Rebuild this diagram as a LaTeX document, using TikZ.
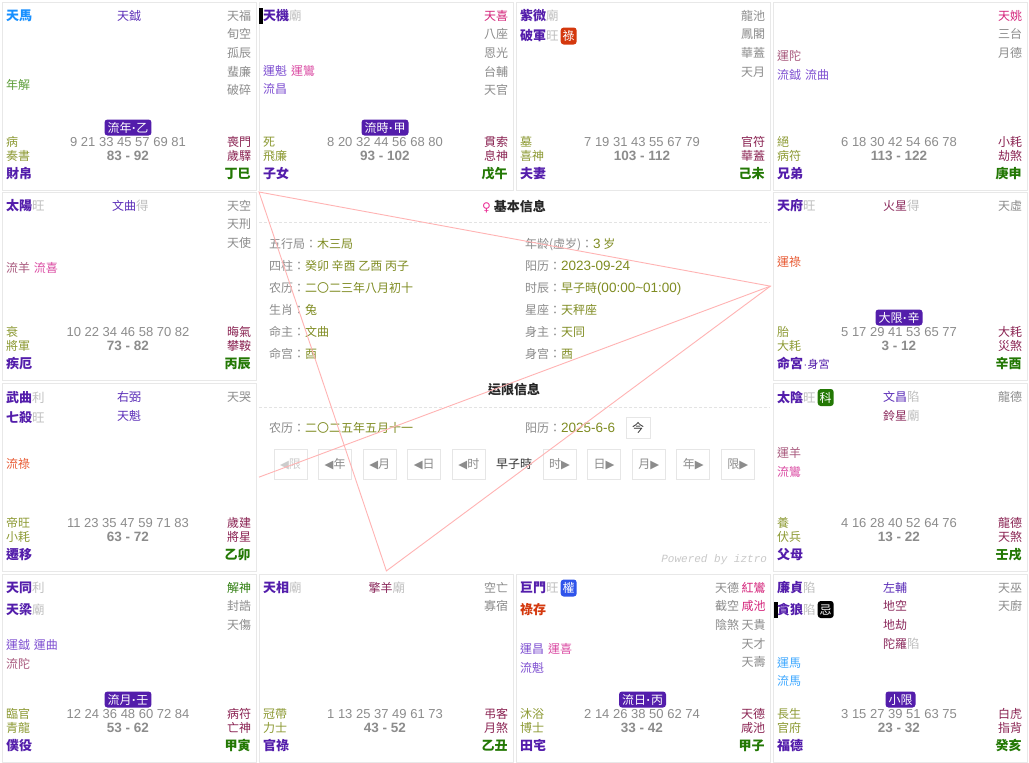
\documentclass[tikz,border=0pt]{standalone}
\usepackage{fontspec}
\setmainfont{Noto Sans CJK TC}
\newfontfamily\lat{Liberation Sans}
\newfontfamily\sym{DejaVu Sans}
\newfontfamily\mono{Liberation Mono}
\usetikzlibrary{calc}
\definecolor{cMaj}{HTML}{531DAB}
\definecolor{cBright}{HTML}{BFBFBF}
\definecolor{cSoft}{HTML}{5B2DB8}
\definecolor{cTough}{HTML}{8B2A5C}
\definecolor{cAdj}{HTML}{8C8C8C}
\definecolor{cFlower}{HTML}{D4237A}
\definecolor{cHelper}{HTML}{2E7D0E}
\definecolor{cNianjie}{HTML}{5E9E3A}
\definecolor{cLucun}{HTML}{D4380D}
\definecolor{cMa}{HTML}{1890FF}
\definecolor{cYunMa}{HTML}{40A9FF}
\definecolor{cDynP}{HTML}{7E4FD1}
\definecolor{cDynPink}{HTML}{DB4BA3}
\definecolor{cDynTough}{HTML}{A95A7E}
\definecolor{cDynLu}{HTML}{E85A33}
\definecolor{cChang}{HTML}{8D9A34}
\definecolor{cSui}{HTML}{8A2352}
\definecolor{cAge}{HTML}{8C8C8C}
\definecolor{cName}{HTML}{531DAB}
\definecolor{cGZ}{HTML}{237804}
\definecolor{cLu}{HTML}{D4380D}
\definecolor{cQuan}{HTML}{2F54EB}
\definecolor{cKe}{HTML}{237804}
\definecolor{cVal}{HTML}{7F8C22}
\definecolor{cLbl}{HTML}{8C8C8C}
\definecolor{cLine}{HTML}{FFB3B3}
\definecolor{cBorder}{HTML}{E8E8E8}
\definecolor{cBtn}{HTML}{E6E6E6}
\definecolor{cFem}{HTML}{EB2F96}
\definecolor{cTitle}{HTML}{262626}
\definecolor{cDark}{HTML}{333333}
\definecolor{cPow}{HTML}{C8C8C8}
\definecolor{cDis}{HTML}{CCCCCC}
\definecolor{cDash}{HTML}{E3E3E3}
\newcommand\fN{\fontsize{12}{14}\selectfont}
\newcommand\fB{\fontsize{13}{15}\selectfont\bfseries}
\newcommand\fAge{\lat\fontsize{13}{15}\selectfont}
\newcommand\fRng{\lat\fontsize{13.5}{15}\selectfont\bfseries}
\newcommand\dig{\lat\fontsize{13.5}{15}\selectfont}
\newcommand\brt[1]{{\mdseries\fontsize{12.5}{15}\selectfont\color{cBright}#1}}
\newcommand\tri[1]{{\sym\fontsize{11.5}{12}\selectfont #1}}
\newcommand\mdot{{\lat\bfseries\kern0.5pt·\kern0.5pt}}
\tikzset{
 t/.style={inner sep=0pt, outer sep=0pt, text height=10.5pt, text depth=1.5pt, anchor=west, font=\fN},
 tr/.style={t, anchor=east},
 tc/.style={t, anchor=center},
 maj/.style={t, font=\fB, text=cMaj},
 adj/.style={tr, text=cAdj},
 lbl/.style={t, text=cLbl},
 cellbox/.style={draw=cBorder, line width=0.8pt, fill=white, minimum width=254pt, minimum height=187.5pt, anchor=north west, inner sep=0pt},
 pbadge/.style={fill=cMaj, text=white, rounded corners=3pt, inner xsep=3pt, inner ysep=0pt, minimum height=16pt, text height=10.5pt, text depth=1.5pt, font=\fN, anchor=center},
 sbadge/.style={text=white, rounded corners=3pt, inner sep=0pt, minimum width=16pt, minimum height=17pt, text height=10.5pt, text depth=1.5pt, font=\fN, anchor=west},
 bar/.style={fill=black, minimum width=4pt, minimum height=16pt, inner sep=0pt, anchor=west},
 btn/.style={draw=cBtn, line width=0.8pt, fill=white, minimum width=33pt, minimum height=30pt, inner sep=0pt, text=cLbl, font=\fN, text height=10.5pt, text depth=1.5pt},
 redline/.style={draw=cLine, line width=0.9pt},
 dashsep/.style={draw=cDash, line width=0.8pt, dash pattern=on 3pt off 2pt},
}
\newcommand\AdjCol[3]{\foreach \s [count=\i] in {#3} \node[adj] (#1-\i) at (#2,{13.5+18.7*(\i-1)}) {\s};}
\newcommand\PalBottom[9]{%
 \node[t, text=cChang] (#1-cs) at (4,140.3) {#2};
 \node[t, text=cChang] (#1-bs) at (4,154.3) {#3};
 \node[tc, font=\fAge, text=cAge] (#1-ages) at (126,140.3) {#4};
 \node[tc, font=\fRng, text=cAge] (#1-rng) at (126,154.3) {#5};
 \node[tr, text=cSui] (#1-jq) at (249,140.3) {#6};
 \node[tr, text=cSui] (#1-sq) at (249,154.3) {#7};
 \node[t, font=\fB, text=cName] (#1-name) at (4,172.3) {#8};
 \node[tr, font=\fB, text=cGZ] (#1-gz) at (248.5,172.3) {#9};
}
\begin{document}
\begin{tikzpicture}[x=1pt,y=-1pt]
\useasboundingbox (0,0) rectangle (1029,763);
\fill[white] (0,0) rectangle (1029,763);

% ---------- 巳 ----------
\begin{scope}[shift={(2,2)}]
\node[cellbox] (si) at (0,0) {};
\node[maj, text=cMa] (si-m1) at (4,13.5) {天馬};
\node[t, text=cSoft] (si-n1) at (115,13.5) {天鉞};
\AdjCol{si-a}{249}{天福,旬空,孤辰,蜚廉,破碎}
\node[t, text=cNianjie] (si-d1) at (4,83) {年解};
\node[pbadge] (si-b) at (126,125.5) {流年\mdot 乙};
\PalBottom{si}{病}{奏書}{9 21 33 45 57 69 81}{83 - 92}{喪門}{歲驛}{財帛}{丁巳}
\end{scope}

% ---------- 午 ----------
\begin{scope}[shift={(259,2)}]
\node[cellbox] (wu) at (0,0) {};
\node[bar] (wu-bar) at (0,13.5) {};
\node[maj] (wu-m1) at (4,13.5) {天機\brt{廟}};
\AdjCol{wu-a}{249}{{\color{cFlower}天喜},八座,恩光,台輔,天官}
\node[t] (wu-d1) at (4,69) {{\color{cDynP}運魁}\hspace{4pt}{\color{cDynPink}運鸞}};
\node[t, text=cDynP] (wu-d2) at (4,87.3) {流昌};
\node[pbadge] (wu-b) at (126,125.5) {流時\mdot 甲};
\PalBottom{wu}{死}{飛廉}{8 20 32 44 56 68 80}{93 - 102}{貫索}{息神}{子女}{戊午}
\end{scope}

% ---------- 未 ----------
\begin{scope}[shift={(516,2)}]
\node[cellbox] (wei) at (0,0) {};
\node[maj] (wei-m1) at (4,13.5) {紫微\brt{廟}};
\node[maj] (wei-m2) at (4,34) {破軍\brt{旺}};
\node[sbadge, fill=cLu] (wei-s) at ([xshift=2pt]wei-m2.east) {祿};
\AdjCol{wei-a}{249}{龍池,鳳閣,華蓋,天月}
\PalBottom{wei}{墓}{喜神}{7 19 31 43 55 67 79}{103 - 112}{官符}{華蓋}{夫妻}{己未}
\end{scope}

% ---------- 申 ----------
\begin{scope}[shift={(773,2)}]
\node[cellbox] (shen) at (0,0) {};
\AdjCol{shen-a}{249}{{\color{cFlower}天姚},三台,月德}
\node[t, text=cDynTough] (shen-d1) at (4,53.7) {運陀};
\node[t, text=cDynP] (shen-d2) at (4,73) {流鉞\hspace{4pt}流曲};
\PalBottom{shen}{絕}{病符}{6 18 30 42 54 66 78}{113 - 122}{小耗}{劫煞}{兄弟}{庚申}
\end{scope}

% ---------- 辰 ----------
\begin{scope}[shift={(2,192)}]
\node[cellbox] (chen) at (0,0) {};
\node[maj] (chen-m1) at (4,13.5) {太陽\brt{旺}};
\node[t, text=cSoft] (chen-n1) at (110,13.5) {文曲\brt{得}};
\AdjCol{chen-a}{249}{天空,天刑,天使}
\node[t] (chen-d1) at (4,75.7) {{\color{cDynTough}流羊}\hspace{4pt}{\color{cDynPink}流喜}};
\PalBottom{chen}{衰}{將軍}{10 22 34 46 58 70 82}{73 - 82}{晦氣}{攀鞍}{疾厄}{丙辰}
\end{scope}

% ---------- 酉 ----------
\begin{scope}[shift={(773,192)}]
\node[cellbox] (you) at (0,0) {};
\node[maj] (you-m1) at (4,13.5) {天府\brt{旺}};
\node[t, text=cTough] (you-n1) at (110,13.5) {火星\brt{得}};
\AdjCol{you-a}{249}{天虛}
\node[t, text=cDynLu] (you-d1) at (4,69.7) {運祿};
\node[pbadge] (you-b) at (126,125.5) {大限\mdot 辛};
\PalBottom{you}{胎}{大耗}{5 17 29 41 53 65 77}{3 - 12}{大耗}{災煞}{命宮{\mdseries\fontsize{11}{13}\selectfont{\lat\kern0.5pt·\kern0.5pt}身宮}}{辛酉}
\end{scope}

% ---------- 卯 ----------
\begin{scope}[shift={(2,383)}]
\node[cellbox] (mao) at (0,0) {};
\node[maj] (mao-m1) at (4,14.5) {武曲\brt{利}};
\node[maj] (mao-m2) at (4,35) {七殺\brt{旺}};
\node[t, text=cSoft] (mao-n1) at (115,13.5) {右弼};
\node[t, text=cSoft] (mao-n2) at (115,32.5) {天魁};
\AdjCol{mao-a}{249}{天哭}
\node[t, text=cDynLu] (mao-d1) at (4,81) {流祿};
\PalBottom{mao}{帝旺}{小耗}{11 23 35 47 59 71 83}{63 - 72}{歲建}{將星}{遷移}{乙卯}
\end{scope}

% ---------- 戌 ----------
\begin{scope}[shift={(773,383)}]
\node[cellbox] (xu) at (0,0) {};
\node[maj] (xu-m1) at (4,14.5) {太陰\brt{旺}};
\node[sbadge, fill=cKe] (xu-s) at ([xshift=2pt]xu-m1.east) {科};
\node[t, text=cSoft] (xu-n1) at (110,13.5) {文昌\brt{陷}};
\node[t, text=cTough] (xu-n2) at (110,32.5) {鈴星\brt{廟}};
\AdjCol{xu-a}{249}{龍德}
\node[t, text=cDynTough] (xu-d1) at (4,70.3) {運羊};
\node[t, text=cDynPink] (xu-d2) at (4,89.3) {流鸞};
\PalBottom{xu}{養}{伏兵}{4 16 28 40 52 64 76}{13 - 22}{龍德}{天煞}{父母}{壬戌}
\end{scope}

% ---------- 寅 ----------
\begin{scope}[shift={(2,574)}]
\node[cellbox] (yin) at (0,0) {};
\node[maj] (yin-m1) at (4,14) {天同\brt{利}};
\node[maj] (yin-m2) at (4,35.5) {天梁\brt{廟}};
\AdjCol{yin-a}{249}{{\color{cHelper}解神},封誥,天傷}
\node[t, text=cDynP] (yin-d1) at (4,70.7) {運鉞\hspace{4pt}運曲};
\node[t, text=cDynTough] (yin-d2) at (4,89.7) {流陀};
\node[pbadge] (yin-b) at (126,125.5) {流月\mdot 壬};
\PalBottom{yin}{臨官}{青龍}{12 24 36 48 60 72 84}{53 - 62}{病符}{亡神}{僕役}{甲寅}
\end{scope}

% ---------- 丑 ----------
\begin{scope}[shift={(259,574)}]
\node[cellbox] (chou) at (0,0) {};
\node[maj] (chou-m1) at (4,14) {天相\brt{廟}};
\node[t, text=cTough] (chou-n1) at (109.5,13.5) {擎羊\brt{廟}};
\AdjCol{chou-a}{249}{空亡,寡宿}
\PalBottom{chou}{冠帶}{力士}{1 13 25 37 49 61 73}{43 - 52}{弔客}{月煞}{官祿}{乙丑}
\end{scope}

% ---------- 子 ----------
\begin{scope}[shift={(516,574)}]
\node[cellbox] (zi) at (0,0) {};
\node[maj] (zi-m1) at (4,14) {巨門\brt{旺}};
\node[sbadge, fill=cQuan] (zi-s) at ([xshift=2pt]zi-m1.east) {權};
\node[maj, text=cLucun] (zi-m2) at (4,35.5) {祿存};
\AdjCol{zi-a}{249.5}{{\color{cFlower}紅鸞},{\color{cFlower}咸池},天貴,天才,天壽}
\AdjCol{zi-b}{223}{天德,截空,陰煞}
\node[t] (zi-d1) at (4,75) {{\color{cDynP}運昌}\hspace{4pt}{\color{cDynPink}運喜}};
\node[t, text=cDynP] (zi-d2) at (4,94) {流魁};
\node[pbadge] (zi-b) at (126.5,125.5) {流日\mdot 丙};
\PalBottom{zi}{沐浴}{博士}{2 14 26 38 50 62 74}{33 - 42}{天德}{咸池}{田宅}{甲子}
\end{scope}

% ---------- 亥 ----------
\begin{scope}[shift={(773,574)}]
\node[cellbox] (hai) at (0,0) {};
\node[maj] (hai-m1) at (4,14) {廉貞\brt{陷}};
\node[bar] (hai-bar) at (0.5,35.5) {};
\node[maj] (hai-m2) at (4,35.5) {貪狼\brt{陷}};
\node[sbadge, fill=black] (hai-s) at ([xshift=2pt]hai-m2.east) {忌};
\node[t, text=cSoft] (hai-n1) at (110,13.5) {左輔};
\node[t, text=cTough] (hai-n2) at (110,32.2) {地空};
\node[t, text=cTough] (hai-n3) at (110,50.9) {地劫};
\node[t, text=cTough] (hai-n4) at (110,69.6) {陀羅\brt{陷}};
\AdjCol{hai-a}{249}{天巫,天廚}
\node[t, text=cYunMa] (hai-d1) at (4,89) {運馬};
\node[t, text=cYunMa] (hai-d2) at (4,107.3) {流馬};
\node[pbadge] (hai-b) at (127.5,125.5) {小限};
\PalBottom{hai}{長生}{官府}{3 15 27 39 51 63 75}{23 - 32}{白虎}{指背}{福德}{癸亥}
\end{scope}

% ---------- centre ----------
\node[minimum width=511pt, minimum height=378.5pt, anchor=north west, inner sep=0pt] (ctr) at (259,192) {};
\node[tc] (title1) at (514,207) {{\sym\fontsize{12}{14}\selectfont\color{cFem}♀}\hspace{3pt}{\fB\color{cTitle}基本信息}};
\coordinate (dl1) at (259,222);
\coordinate (dr1) at (770,222);
\draw[dashsep] (dl1) -- (dr1);
\node[lbl] (i-wx) at (269,244) {五行局：\textcolor{cVal}{木三局}};
\node[lbl] (i-sz) at (269,266) {四柱：\textcolor{cVal}{癸卯 辛酉 乙酉 丙子}};
\node[lbl] (i-nl) at (269,288) {农历：\textcolor{cVal}{二〇二三年八月初十}};
\node[lbl] (i-sx) at (269,310) {生肖：\textcolor{cVal}{兔}};
\node[lbl] (i-mz) at (269,332) {命主：\textcolor{cVal}{文曲}};
\node[lbl] (i-mg) at (269,354) {命宫：\textcolor{cVal}{酉}};
\node[lbl] (i-age) at (525,244) {年龄(虚岁)：\textcolor{cVal}{{\dig 3} 岁}};
\node[lbl] (i-yl) at (525,266) {阳历：\textcolor{cVal}{\dig 2023-09-24}};
\node[lbl] (i-sc) at (525,288) {时辰：\textcolor{cVal}{早子時{\dig(00:00\textasciitilde01:00)}}};
\node[lbl] (i-xz) at (525,310) {星座：\textcolor{cVal}{天秤座}};
\node[lbl] (i-szh) at (525,332) {身主：\textcolor{cVal}{天同}};
\node[lbl] (i-sg) at (525,354) {身宫：\textcolor{cVal}{酉}};

\node[tc, font=\fB, text=cTitle] (title2) at (514,390) {运限信息};
\coordinate (dl2) at (259,407);
\coordinate (dr2) at (770,407);
\draw[dashsep] (dl2) -- (dr2);
\node[lbl] (y-nl) at (269,428) {农历：\textcolor{cVal}{二〇二五年五月十一}};
\node[lbl] (y-yl) at (525,428) {阳历：\textcolor{cVal}{\dig 2025-6-6}};
\node[btn, minimum width=24pt, minimum height=21pt, text=cDark] (now) at (638,427.5) {今};

\node[btn, text=cDis] (bx1) at (290.5,464) {\tri{◀}限};
\node[btn] (bx2) at (335.1,464) {\tri{◀}年};
\node[btn] (bx3) at (379.7,464) {\tri{◀}月};
\node[btn] (bx4) at (424.3,464) {\tri{◀}日};
\node[btn] (bx5) at (468.9,464) {\tri{◀}时};
\node[tc, text=cDark] (cur) at (514,464) {早子時};
\node[btn] (bx6) at (559.5,464) {时\tri{▶}};
\node[btn] (bx7) at (604.1,464) {日\tri{▶}};
\node[btn] (bx8) at (648.7,464) {月\tri{▶}};
\node[btn] (bx9) at (693.3,464) {年\tri{▶}};
\node[btn] (bx10) at (737.9,464) {限\tri{▶}};

\node[tr, font=\mono\itshape\fontsize{11}{13}\selectfont, text=cPow] (pw) at (767,558) {Powered by iztro};

% ---------- 三方四正 lines ----------
\coordinate (pSi) at (ctr.north west);
\coordinate (pYou) at (ctr.east |- you.center);
\coordinate (pChou) at (chou.center |- ctr.south);
\coordinate (pMao) at (ctr.west |- mao.center);
\draw[redline] (pSi) -- (pYou) -- (pChou) -- cycle;
\draw[redline] (pYou) -- (pMao);
\end{tikzpicture}
\end{document}
